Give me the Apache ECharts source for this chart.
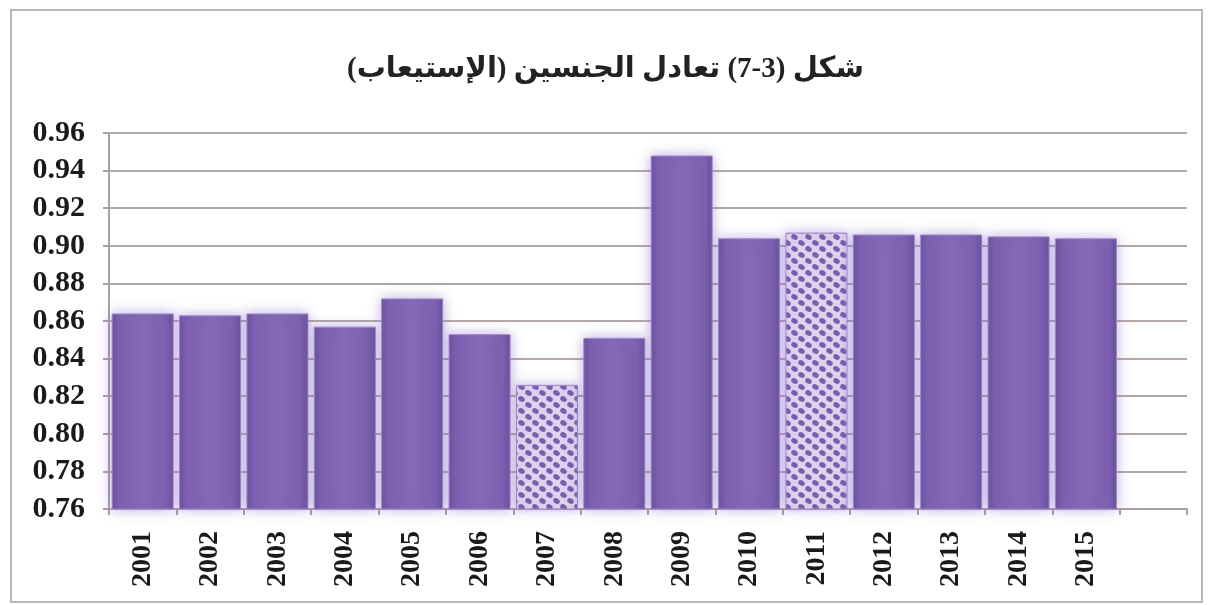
<!DOCTYPE html>
<html>
<head>
<meta charset="utf-8">
<script src="https://cdn.jsdelivr.net/npm/echarts@6/dist/echarts.min.js"></script>
<style>
  html, body { margin: 0; padding: 0; background: #fff; }
  #chart { width: 1211px; height: 605px; }
</style>
</head>
<body>
<div id="chart"></div>
<script>
// data
var years = ['2001','2002','2003','2004','2005','2006','2007','2008','2009','2010','2011','2012','2013','2014','2015',''];
var values = [0.864,0.863,0.864,0.857,0.872,0.853,0.826,0.851,0.948,0.904,0.907,0.906,0.906,0.905,0.904,null];
var hatched = ['2007','2011'];
var yTicks = { min: 0.76, max: 0.96, step: 0.02 };
var titleText = '\u202Bشكل (3-7) تعادل الجنسين (الإستيعاب)\u202C';

// lattice pattern for the hatched bars
function makePattern() {
  var c = document.createElement('canvas');
  c.width = 14; c.height = 12;
  var g = c.getContext('2d');
  g.fillStyle = '#ded3ee';
  g.fillRect(0, 0, 14, 12);
  g.fillStyle = '#7a5fae';
  [[3.5,3],[10.5,9],[-3.5,9],[17.5,3]].forEach(function (p) {
    g.beginPath();
    g.ellipse(p[0], p[1], 3.4, 2.6, 0.5, 0, Math.PI * 2);
    g.fill();
  });
  return c;
}
var pattern = makePattern();

var barFill = new echarts.graphic.LinearGradient(0, 0, 1, 0, [
  { offset: 0, color: '#6a4f9e' },
  { offset: 0.12, color: '#7c60af' },
  { offset: 0.5, color: '#8669b8' },
  { offset: 0.88, color: '#7c60af' },
  { offset: 1, color: '#684d9b' }
]);

var barData = values.map(function (v, i) {
  if (hatched.indexOf(years[i]) >= 0) {
    return { value: v, itemStyle: { color: { image: pattern, repeat: 'repeat' } } };
  }
  return v;
});

var chart = echarts.init(document.getElementById('chart'));
chart.setOption({
  backgroundColor: '#fff',
  animation: false,
  title: {
    text: titleText,
    left: 'center',
    top: 50,
    textStyle: {
      fontFamily: '"Liberation Serif", "DejaVu Sans", serif',
      fontWeight: 'bold',
      fontSize: 29,
      color: '#222'
    }
  },
  graphic: [{
    type: 'rect',
    shape: { x: 11, y: 10, width: 1191, height: 592 },
    style: { fill: 'none', stroke: '#bdb6b6', lineWidth: 2 },
    silent: true
  }],
  grid: { left: 109, right: 24, top: 133, bottom: 96 },
  xAxis: {
    type: 'category',
    data: years,
    axisLine: { lineStyle: { color: '#a9a0a0', width: 2 } },
    axisTick: { show: true, length: 6, lineStyle: { color: '#a9a0a0', width: 2 } },
    axisLabel: {
      interval: 0,
      rotate: 90,
      margin: 22,
      color: '#1a1a1a',
      fontFamily: '"Liberation Serif", serif',
      fontWeight: 'bold',
      fontSize: 28
    }
  },
  yAxis: {
    type: 'value',
    min: yTicks.min,
    max: yTicks.max,
    interval: yTicks.step,
    axisLine: { show: true, lineStyle: { color: '#a9a0a0', width: 2 } },
    axisTick: { show: true, length: 6, lineStyle: { color: '#a9a0a0', width: 2 } },
    splitLine: { lineStyle: { color: '#b3a8a8', width: 2 } },
    axisLabel: {
      margin: 24,
      color: '#1a1a1a',
      fontFamily: '"Liberation Serif", serif',
      fontWeight: 'bold',
      fontSize: 30,
      formatter: function (v) { return v.toFixed(2); }
    }
  },
  series: [{
    type: 'bar',
    data: barData,
    barCategoryGap: '8%',
    itemStyle: {
      color: barFill,
      borderColor: '#9c86c8',
      borderWidth: 1,
      shadowBlur: 12,
      shadowColor: 'rgba(140,110,200,0.55)'
    }
  }]
});
</script>
</body>
</html>
